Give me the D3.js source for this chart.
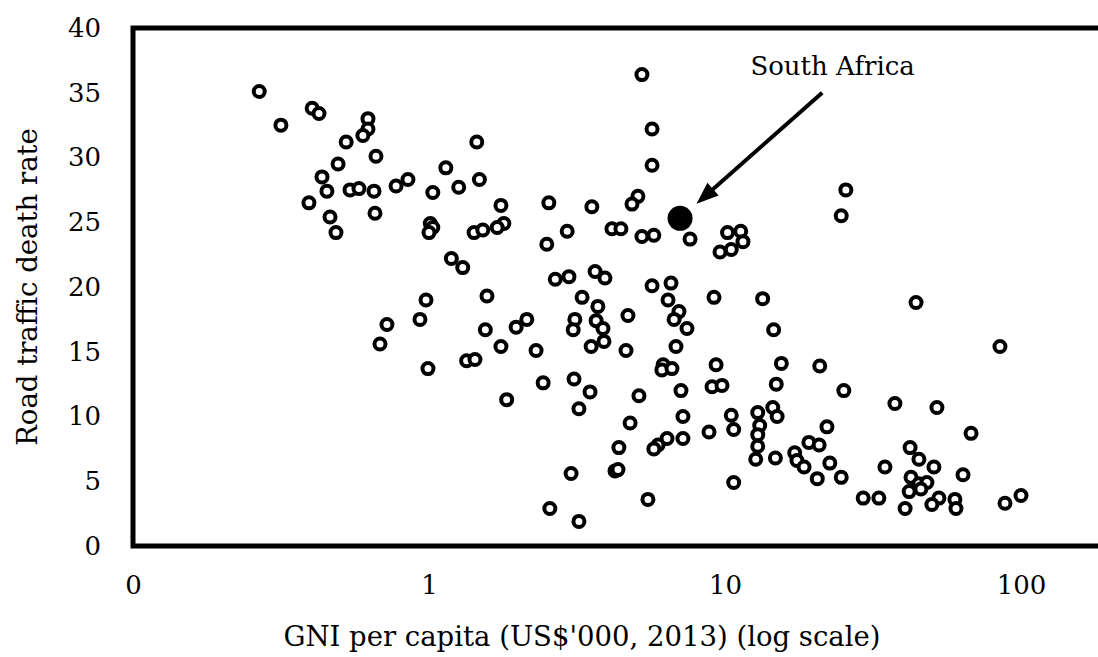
<!DOCTYPE html>
<html>
<head>
<meta charset="utf-8">
<script src="https://cdn.jsdelivr.net/npm/d3@7/dist/d3.min.js"></script>
<style>
  html, body { margin: 0; padding: 0; background: #fff; }
  svg { display: block; font-family: "DejaVu Serif", serif; }
</style>
</head>
<body>
<svg id="chart" width="1098" height="657"></svg>
<script>
// GNI per capita, US$'000 (2013)
const gni = [
  0.267, 0.316, 0.403, 0.425, 0.622, 0.622, 0.598, 0.525, 0.662, 0.493,
  0.435, 0.452, 0.393, 0.541, 0.580, 0.652, 0.657, 0.463, 0.485, 0.774,
  0.849, 1.03, 1.14, 1.26, 1.45, 1.48, 1.75, 1.79, 1.70, 1.42,
  1.52, 1.01, 1.03, 1.00, 1.19, 1.30, 0.977, 1.57,
  0.721, 0.932, 0.683, 1.55, 1.75, 0.992, 1.34, 1.43, 1.83, 1.97,
  5.24, 5.67, 5.67, 5.08, 4.85, 7.62, 2.54, 3.55, 2.93, 2.50,
  4.15, 4.45, 5.24, 5.75, 10.2, 11.3, 11.5, 10.5, 9.62, 2.67,
  2.97, 3.64, 3.93, 5.67, 6.57, 3.29, 6.42, 9.18, 13.4,
  3.72, 3.11, 3.67, 3.07, 3.87, 3.90, 3.53, 4.70, 4.63, 6.99,
  6.73, 7.44, 6.83, 2.14, 2.30, 6.18, 6.12, 6.62, 9.33, 9.04,
  9.77, 7.10, 2.43, 3.09, 3.50, 3.21, 5.12, 4.78, 7.21, 7.21,
  6.37, 5.94, 5.75, 4.38, 8.83, 10.5, 10.7, 12.9, 13.1, 12.9,
  12.9, 12.7, 3.02, 4.25, 4.35, 10.7, 2.56, 3.21, 5.49,
  25.6, 24.7, 14.6, 44.2, 84.9,
  15.5, 20.9, 14.9, 25.2, 37.5, 52.0, 14.5, 15.0, 14.8, 22.1,
  19.2, 20.8, 17.2, 17.5, 18.5, 22.6, 20.5, 24.7, 34.7, 67.8,
  42.2, 45.2, 50.8, 63.7, 42.5, 45.2, 48.1, 41.9, 45.9, 52.8,
  50.0, 59.8, 60.3, 40.6, 29.3, 33.1, 88.3, 100
];

// road traffic deaths per 100 000 population
const deathRate = [
  35.1, 32.5, 33.8, 33.4, 33.0, 32.2, 31.7, 31.2, 30.1, 29.5,
  28.5, 27.4, 26.5, 27.5, 27.6, 27.4, 25.7, 25.4, 24.2, 27.8,
  28.3, 27.3, 29.2, 27.7, 31.2, 28.3, 26.3, 24.9, 24.6, 24.2,
  24.4, 24.9, 24.6, 24.2, 22.2, 21.5, 19.0, 19.3,
  17.1, 17.5, 15.6, 16.7, 15.4, 13.7, 14.3, 14.4, 11.3, 16.9,
  36.4, 32.2, 29.4, 27.0, 26.4, 23.7, 26.5, 26.2, 24.3, 23.3,
  24.5, 24.5, 23.9, 24.0, 24.2, 24.3, 23.5, 22.9, 22.7, 20.6,
  20.8, 21.2, 20.7, 20.1, 20.3, 19.2, 19.0, 19.2, 19.1,
  18.5, 17.5, 17.4, 16.7, 16.8, 15.8, 15.4, 17.8, 15.1, 18.1,
  17.5, 16.8, 15.4, 17.5, 15.1, 14.0, 13.6, 13.7, 14.0, 12.3,
  12.4, 12.0, 12.6, 12.9, 11.9, 10.6, 11.6, 9.5, 10.0, 8.3,
  8.3, 7.8, 7.5, 7.6, 8.8, 10.1, 9.0, 10.3, 9.3, 8.6,
  7.7, 6.7, 5.6, 5.8, 5.9, 4.9, 2.9, 1.9, 3.6,
  27.5, 25.5, 16.7, 18.8, 15.4,
  14.1, 13.9, 12.5, 12.0, 11.0, 10.7, 10.7, 10.0, 6.8, 9.2,
  8.0, 7.8, 7.2, 6.6, 6.1, 6.4, 5.2, 5.3, 6.1, 8.7,
  7.6, 6.7, 6.1, 5.5, 5.3, 4.8, 4.9, 4.2, 4.4, 3.7,
  3.2, 3.6, 2.9, 2.9, 3.7, 3.7, 3.3, 3.9
];

const southAfrica = { name: "South Africa", gni: 7.05, rate: 25.3 };
const labelAt = { gni: 23.1, rate: 36.4 };
const arrowFrom = { gni: 21.3, rate: 35.0 };

const xTicks = [0.1, 1, 10, 100];
const yTicks = [0, 5, 10, 15, 20, 25, 30, 35, 40];

const xTitle = "GNI per capita (US$'000, 2013) (log scale)";
const yTitle = "Road traffic death rate";

const svg = d3.select("svg#chart");

// one decade = 296px, axis runs 0.1 .. 1000 and is cut by the window on the right
const x = d3.scaleLog().domain([0.1, 1000]).range([133, 133 + 296 * 4]);
const y = d3.scaleLinear().domain([0, 40]).range([546, 28]);

const points = gni.map((g, i) => ({ gni: g, rate: deathRate[i] }));

// y axis labels
svg
  .append("g")
  .attr("transform", `translate(${x(0.1)}, 0)`)
  .call(d3.axisLeft(y).tickValues(yTicks).tickSize(0).tickPadding(32))
  .call((g) => g.select(".domain").remove())
  .selectAll("text")
  .attr("fill", "#000")
  .style("font-size", "26px")
  .style("font-family", "DejaVu Serif, serif");

// x axis labels (Excel shows 0.1 as "0")
svg
  .append("g")
  .attr("transform", `translate(0, ${y(0)})`)
  .call(
    d3
      .axisBottom(x)
      .tickValues(xTicks)
      .tickSize(0)
      .tickPadding(30)
      .tickFormat((d) => (d < 1 ? "0" : d3.format("d")(d)))
  )
  .call((g) => g.select(".domain").remove())
  .selectAll("text")
  .attr("fill", "#000")
  .style("font-size", "26px")
  .style("font-family", "DejaVu Serif, serif");

// plot frame
svg
  .append("rect")
  .attr("x", x(0.1))
  .attr("y", y(40))
  .attr("width", x(1000) - x(0.1))
  .attr("height", y(0) - y(40))
  .attr("fill", "none")
  .attr("stroke", "#000")
  .attr("stroke-width", 5);

// countries
svg
  .append("g")
  .selectAll("circle")
  .data(points)
  .join("circle")
  .attr("cx", (d) => x(d.gni))
  .attr("cy", (d) => y(d.rate))
  .attr("r", 5.5)
  .attr("fill", "#fff")
  .attr("stroke", "#000")
  .attr("stroke-width", 4);

svg
  .append("circle")
  .attr("cx", x(southAfrica.gni))
  .attr("cy", y(southAfrica.rate))
  .attr("r", 12.5)
  .attr("fill", "#000");

// annotation arrow
const sx = x(arrowFrom.gni), sy = y(arrowFrom.rate);
const cx = x(southAfrica.gni), cy = y(southAfrica.rate);
const len = Math.hypot(sx - cx, sy - cy);
const ux = (sx - cx) / len, uy = (sy - cy) / len;
const tipX = cx + ux * 22, tipY = cy + uy * 22;
const headLen = 22, headHalf = 8.5;
const baseX = tipX + ux * headLen, baseY = tipY + uy * headLen;

svg
  .append("line")
  .attr("x1", sx)
  .attr("y1", sy)
  .attr("x2", baseX - ux * 2)
  .attr("y2", baseY - uy * 2)
  .attr("stroke", "#000")
  .attr("stroke-width", 4);

svg
  .append("polygon")
  .attr("points", [
    [tipX, tipY],
    [baseX - uy * headHalf, baseY + ux * headHalf],
    [baseX + uy * headHalf, baseY - ux * headHalf],
  ].map((p) => p.join(",")).join(" "))
  .attr("fill", "#000");

svg
  .append("text")
  .attr("x", x(labelAt.gni))
  .attr("y", y(labelAt.rate))
  .attr("text-anchor", "middle")
  .style("font-size", "26px")
  .text(southAfrica.name);

// axis titles
svg
  .append("text")
  .attr("x", 582)
  .attr("y", 646)
  .attr("text-anchor", "middle")
  .style("font-size", "27.5px")
  .text(xTitle);

svg
  .append("text")
  .attr("transform", `translate(37, 287) rotate(-90)`)
  .attr("text-anchor", "middle")
  .style("font-size", "27.5px")
  .text(yTitle);
</script>
</body>
</html>
